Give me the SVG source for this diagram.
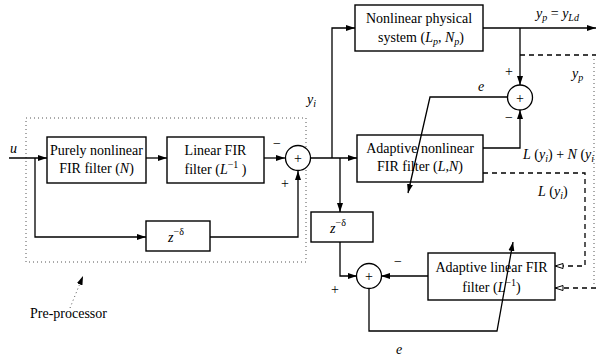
<svg xmlns="http://www.w3.org/2000/svg" width="596" height="361" viewBox="0 0 596 361" font-family="'Liberation Serif', 'DejaVu Serif', 'Times New Roman', serif">
<style>
  .box { fill: #fff; stroke: #000; stroke-width: 1.4; }
  .sum { fill: #fff; stroke: #000; stroke-width: 1.3; }
  .wire { fill: none; stroke: #000; stroke-width: 1.3; }
  .dash { fill: none; stroke: #000; stroke-width: 1.3; stroke-dasharray: 5 4; }
  .dot { fill: none; stroke: #555; stroke-width: 1; stroke-dasharray: 1 3; }
  text { font-family: 'Liberation Serif', 'DejaVu Serif', 'Times New Roman', serif; font-size: 14px; fill: #000; }
  .c { text-anchor: middle; }
  .i { font-style: italic; }
  .s { font-size: 10px; }
</style>
<defs>
  <marker id="arr" markerWidth="10" markerHeight="8" refX="9" refY="4" orient="auto" markerUnits="userSpaceOnUse">
    <path d="M0,1 L9,4 L0,7 Z" fill="#000"/>
  </marker>
  <marker id="open" markerWidth="10" markerHeight="8" refX="9" refY="4" orient="auto" markerUnits="userSpaceOnUse">
    <path d="M1,1.5 L9,4 L1,6.5 Z" fill="#fff" stroke="#000" stroke-width="1"/>
  </marker>
</defs>

<!-- pre-processor outline and its pointer label -->
<g id="preprocessor">
  <rect class="dot" x="26" y="118" width="280" height="144"/>
  <path class="dot" d="M70,308 L83,276" marker-end="url(#arr)"/>
  <text x="30" y="318">Pre-processor</text>
</g>

<g id="nonlinear-fir">
  <rect class="box" x="47" y="137" width="99" height="46"/>
  <text class="c" x="96.5" y="155">Purely nonlinear</text>
  <text class="c" x="96.5" y="173">FIR filter (<tspan class="i">N</tspan>)</text>
</g>

<g id="linear-fir">
  <rect class="box" x="167" y="137" width="97" height="46"/>
  <text class="c" x="215.5" y="155">Linear FIR</text>
  <text class="c" x="215.5" y="174">filter (<tspan class="i">L</tspan><tspan class="s" dy="-6">−1</tspan><tspan dy="6"> )</tspan></text>
</g>

<g id="sum-pre">
  <circle class="sum" cx="298" cy="158" r="12.5"/>
  <text class="c" x="298" y="163">+</text>
  <text x="273" y="148">−</text>
  <text x="281" y="188">+</text>
</g>

<g id="delay-pre">
  <rect class="box" x="146" y="221" width="64" height="30"/>
  <text class="c i" x="176" y="242">z<tspan class="s" font-style="normal" dy="-7">−δ</tspan></text>
</g>

<g id="plant">
  <rect class="box" x="355" y="5" width="128" height="46"/>
  <text class="c" x="419" y="23">Nonlinear physical</text>
  <text class="c" x="421" y="42">system (<tspan class="i">L<tspan class="s" dy="3">p</tspan></tspan><tspan dy="-3">, </tspan><tspan class="i">N<tspan class="s" dy="3">p</tspan></tspan><tspan dy="-3">)</tspan></text>
</g>

<g id="adaptive-nonlinear">
  <rect class="box" x="357" y="135" width="126" height="47"/>
  <text class="c" x="420" y="153">Adaptive nonlinear</text>
  <text class="c" x="420" y="171">FIR filter (<tspan class="i">L,N</tspan>)</text>
</g>

<g id="sum-out">
  <circle class="sum" cx="520" cy="97.5" r="12.5"/>
  <text class="c" x="520" y="102.5">+</text>
  <text x="505" y="76">+</text>
  <text x="505" y="122">−</text>
</g>

<g id="delay-post">
  <rect class="box" x="311" y="212" width="62" height="30"/>
  <text class="c i" x="338" y="233">z<tspan class="s" font-style="normal" dy="-7">−δ</tspan></text>
</g>

<g id="sum-post">
  <circle class="sum" cx="369" cy="276" r="12.5"/>
  <text class="c" x="369" y="281">+</text>
  <text x="394" y="266">−</text>
  <text x="331" y="294">+</text>
</g>

<g id="adaptive-linear">
  <rect class="box" x="428" y="253" width="127" height="47"/>
  <text class="c" x="491.5" y="272">Adaptive linear FIR</text>
  <text class="c" x="491.5" y="292">filter (<tspan class="i">L</tspan><tspan class="s" dy="-6">−1</tspan><tspan dy="6">)</tspan></text>
</g>

<g id="connectors">
  <!-- input u -->
  <path class="wire" d="M9,158 H47" marker-end="url(#arr)"/>
  <path class="wire" d="M35,158 V237 H146" marker-end="url(#arr)"/>
  <path class="wire" d="M146,158 H167" marker-end="url(#arr)"/>
  <path class="wire" d="M264,158 H285" marker-end="url(#arr)"/>
  <path class="wire" d="M210,237 H298 V171" marker-end="url(#arr)"/>
  <!-- y_i -->
  <path class="wire" d="M311,158 H357" marker-end="url(#arr)"/>
  <path class="wire" d="M332,158 V28 H355" marker-end="url(#arr)"/>
  <path class="wire" d="M340,158 V212" marker-end="url(#arr)"/>
  <!-- plant output -->
  <path class="wire" d="M483,28 H596" marker-end="url(#arr)"/>
  <path class="wire" d="M520,28 V85" marker-end="url(#arr)"/>
  <path class="wire" d="M483,148 H520 V110" marker-end="url(#arr)"/>
  <!-- error adapting the nonlinear filter -->
  <path class="wire" d="M508,97 H430 L408,193" marker-end="url(#arr)"/>
  <!-- delayed branch -->
  <path class="wire" d="M340,242 V276 H357" marker-end="url(#arr)"/>
  <path class="wire" d="M428,276 H381" marker-end="url(#arr)"/>
  <!-- error adapting the linear filter -->
  <path class="wire" d="M369,288 V331 H497 L513,242" marker-end="url(#arr)"/>
  <!-- dashed signal paths -->
  <path class="dash" d="M520,55 H596"/>
  <path class="dash" d="M483,173 H585 V266 H555" marker-end="url(#open)"/>
  <path class="dash" d="M596,288 H555" marker-end="url(#open)"/>
  <path class="dot" d="M594,55 V288"/>
</g>

<g id="labels">
  <text class="i" x="10" y="153">u</text>
  <text class="i" x="307" y="104">y<tspan class="s" dy="3">i</tspan></text>
  <text class="i" x="478" y="91">e</text>
  <text class="i" x="536" y="18">y<tspan class="s" dy="3">p</tspan><tspan dy="-3" font-style="normal"> = </tspan>y<tspan class="s" dy="3">Ld</tspan></text>
  <text class="i" x="572" y="78">y<tspan class="s" dy="3">p</tspan></text>
  <text x="523" y="159"><tspan class="i">L</tspan> (<tspan class="i">y<tspan class="s" dy="3">i</tspan></tspan><tspan dy="-3">) + </tspan><tspan class="i">N</tspan> (<tspan class="i">y<tspan class="s" dy="3">i</tspan></tspan></text>
  <text x="538" y="196"><tspan class="i">L</tspan> (<tspan class="i">y<tspan class="s" dy="3">i</tspan></tspan><tspan dy="-3">)</tspan></text>
  <text class="i" x="396" y="354">e</text>
</g>
</svg>
